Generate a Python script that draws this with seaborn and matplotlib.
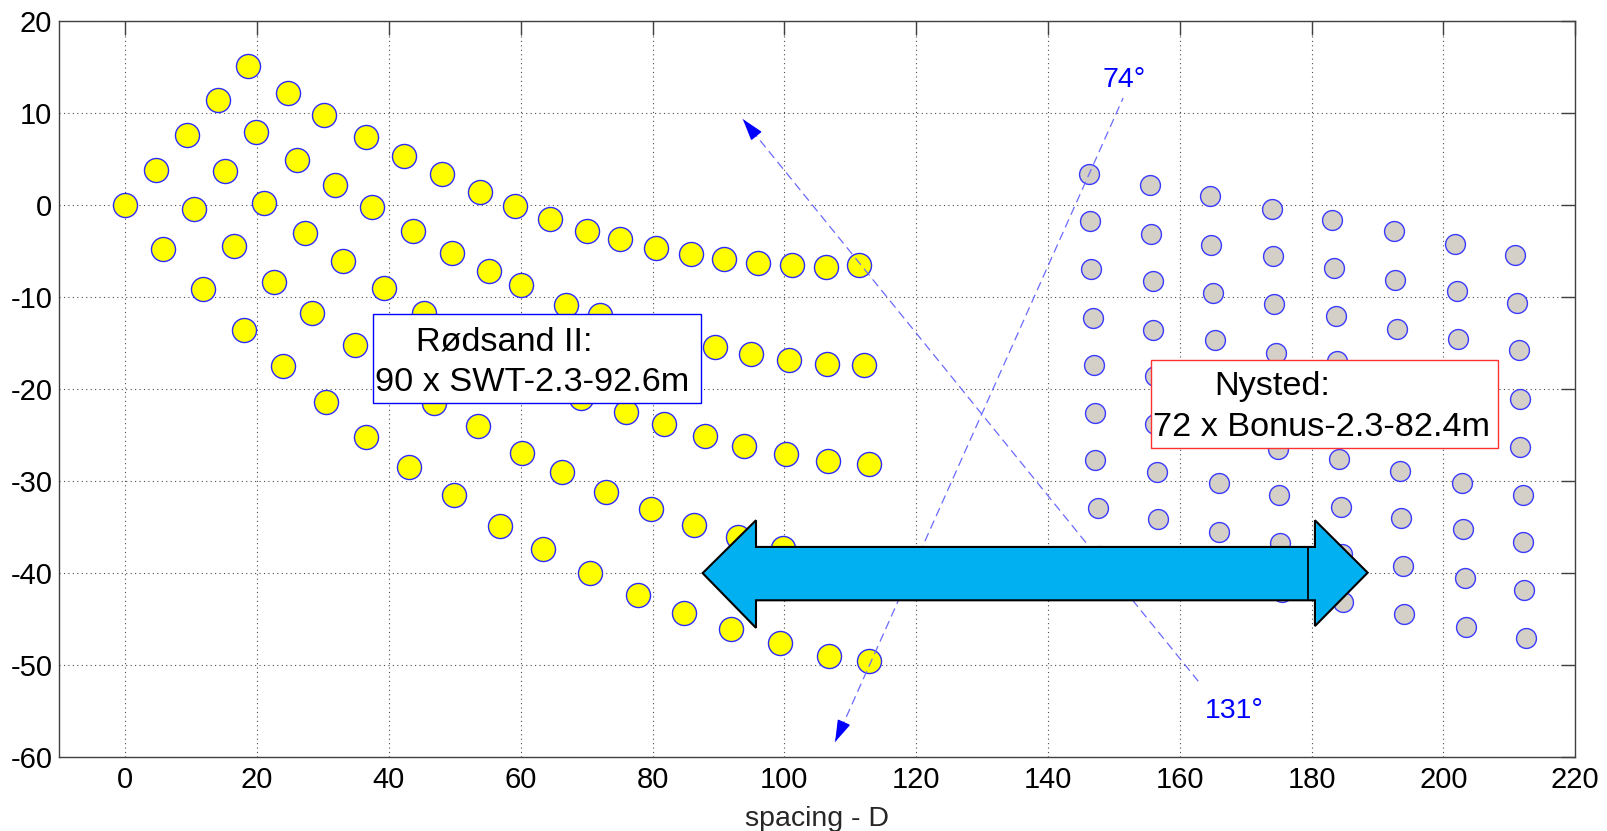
import numpy as np
import pandas as pd
import matplotlib
matplotlib.use("Agg")
import matplotlib.pyplot as plt
import matplotlib.patches as mpatches
import seaborn as sns

# Rødsand II: five arcs of 18 turbines (positions in rotor diameters)
rodsand_row1_x = [18.7, 24.7, 30.2, 36.6, 42.3, 48.0, 53.8, 59.2, 64.5, 70.1, 75.0, 80.5, 85.8, 90.9, 96.0, 101.2, 106.3, 111.4]
rodsand_row1_y = [15.1, 12.1, 9.8, 7.4, 5.3, 3.3, 1.4, -0.1, -1.5, -2.9, -3.7, -4.7, -5.4, -5.9, -6.3, -6.6, -6.8, -6.6]
rodsand_row2_x = [14.1, 19.9, 26.0, 31.9, 37.5, 43.6, 49.6, 55.2, 60.1, 66.8, 72.1, 77.9, 83.7, 89.5, 95.0, 100.7, 106.4, 112.1]
rodsand_row2_y = [11.4, 7.9, 4.9, 2.1, -0.3, -2.9, -5.2, -7.2, -8.7, -10.9, -12.0, -13.3, -14.5, -15.5, -16.2, -16.9, -17.3, -17.4]
rodsand_row3_x = [9.3, 15.1, 21.0, 27.3, 33.0, 39.3, 45.3, 51.3, 57.3, 63.3, 69.2, 76.0, 81.8, 87.9, 93.9, 100.2, 106.6, 112.8]
rodsand_row3_y = [7.6, 3.7, 0.2, -3.1, -6.1, -9.0, -11.8, -14.3, -16.7, -19.0, -21.0, -22.5, -23.8, -25.1, -26.2, -27.1, -27.9, -28.2]
rodsand_row4_x = [4.7, 10.5, 16.5, 22.6, 28.4, 34.9, 40.9, 46.9, 53.5, 60.2, 66.2, 73.0, 79.7, 86.3, 92.9, 99.8, 106.4, 112.9]
rodsand_row4_y = [3.8, -0.5, -4.5, -8.4, -11.8, -15.3, -18.5, -21.5, -24.0, -27.0, -29.0, -31.2, -33.1, -34.8, -36.1, -37.3, -38.6, -39.0]
rodsand_row5_x = [0.0, 5.8, 11.8, 18.0, 23.9, 30.5, 36.6, 43.1, 49.9, 56.9, 63.4, 70.5, 77.8, 84.8, 91.9, 99.4, 106.8, 112.9]
rodsand_row5_y = [0.0, -4.8, -9.2, -13.6, -17.5, -21.4, -25.2, -28.5, -31.6, -34.9, -37.4, -40.0, -42.4, -44.4, -46.1, -47.6, -49.0, -49.6]

# Nysted: eight columns of 9 turbines
nysted_col_x = [
    [146.2, 146.3, 146.5, 146.8, 147.0, 147.1, 147.2, 147.6, 147.8],
    [155.5, 155.6, 155.9, 156.0, 156.2, 156.3, 156.5, 156.7, 156.9],
    [164.6, 164.8, 165.1, 165.3, 165.5, 165.7, 165.9, 166.0, 166.2],
    [174.0, 174.2, 174.3, 174.6, 174.8, 174.9, 175.0, 175.2, 175.5],
    [183.1, 183.4, 183.7, 183.8, 184.0, 184.2, 184.4, 184.6, 184.8],
    [192.5, 192.7, 192.9, 193.0, 193.2, 193.4, 193.6, 193.8, 194.0],
    [201.8, 202.0, 202.2, 202.4, 202.6, 202.8, 203.0, 203.2, 203.4],
    [210.9, 211.1, 211.4, 211.6, 211.6, 212.0, 212.1, 212.2, 212.5],
]
nysted_col_y = [
    [3.3, -1.8, -7.0, -12.3, -17.4, -22.6, -27.8, -33.0, -38.2],
    [2.1, -3.2, -8.3, -13.6, -18.6, -23.8, -29.1, -34.2, -39.4],
    [0.9, -4.4, -9.6, -14.7, -19.9, -25.1, -30.3, -35.6, -40.8],
    [-0.5, -5.6, -10.8, -16.1, -21.3, -26.6, -31.6, -36.8, -42.1],
    [-1.7, -6.9, -12.1, -17.0, -22.3, -27.6, -32.9, -38.0, -43.2],
    [-2.9, -8.2, -13.5, -18.6, -23.8, -28.9, -34.1, -39.3, -44.5],
    [-4.3, -9.4, -14.6, -19.8, -25.0, -30.2, -35.3, -40.6, -45.9],
    [-5.5, -10.7, -15.8, -21.1, -26.3, -31.5, -36.7, -41.9, -47.1],
]

x_ticks = list(range(0, 221, 20))
y_ticks = list(range(-60, 21, 10))

# wind directions (dashed lines, arrow tip first)
dir74_tip, dir74_end = (107.7, -58.4), (151.4, 11.6)
dir131_tip, dir131_end = (93.7, 9.3), (162.8, -51.8)

rodsand = pd.DataFrame({
    "x": rodsand_row1_x + rodsand_row2_x + rodsand_row3_x + rodsand_row4_x + rodsand_row5_x,
    "y": rodsand_row1_y + rodsand_row2_y + rodsand_row3_y + rodsand_row4_y + rodsand_row5_y,
})
nysted = pd.DataFrame({
    "x": [v for col in nysted_col_x for v in col],
    "y": [v for col in nysted_col_y for v in col],
})

sns.set_style("white")
plt.rcParams["font.family"] = ["Liberation Sans", "DejaVu Sans"]
plt.rcParams["axes.unicode_minus"] = False

W, H = 1608, 831
fig = plt.figure(figsize=(W / 100, H / 100), dpi=100)
ax_l, ax_r, ax_t, ax_b = 59.3, 1575.3, 20.7, 756.7
ax = fig.add_axes([ax_l / W, 1 - ax_b / H, (ax_r - ax_l) / W, (ax_b - ax_t) / H])

sns.scatterplot(data=rodsand, x="x", y="y", s=300, color="#ffff00",
                edgecolor="#2b2bff", linewidth=1.0, ax=ax, zorder=3, legend=False)
sns.scatterplot(data=nysted, x="x", y="y", s=205, color="#d4d0c8",
                edgecolor="#3a3aff", linewidth=1.0, ax=ax, zorder=3, legend=False)

ax.set_xlim(-10, 220)
ax.set_ylim(-60, 20)
ax.set_xticks(x_ticks)
ax.set_yticks(y_ticks)
ax.grid(True, linestyle=(0, (1, 3)), color="0.3", linewidth=0.8)
ax.set_axisbelow(True)
ax.tick_params(axis="both", direction="in", length=10, width=1.0, color="#404040",
               top=True, right=True, labelsize=21, labelcolor="black")
ax.tick_params(axis="x", pad=7)
ax.tick_params(axis="y", pad=5)
for sp in ax.spines.values():
    sp.set_color("#404040")
    sp.set_linewidth(1.0)
ax.set_xlabel("spacing - D", fontsize=20.5, labelpad=8)
ax.set_ylabel("")

# dashed direction lines with solid heads
fig.canvas.draw()
def direction(tip, end, label, lab_xy):
    ax.plot([tip[0], end[0]], [tip[1], end[1]], linestyle=(0, (7, 4)),
            color="#6a6aff", linewidth=0.9, zorder=4)
    p_tip = ax.transData.transform(tip)
    p_end = ax.transData.transform(end)
    u = (p_end - p_tip) / np.hypot(*(p_end - p_tip))
    back = ax.transData.inverted().transform(p_tip + u * 17)
    ax.annotate("", xy=tip, xytext=back,
                arrowprops=dict(arrowstyle="-|>,head_length=0.9,head_width=0.28",
                                mutation_scale=15, color="#0000ff", lw=1.0,
                                shrinkA=0, shrinkB=0), zorder=4)
    ax.text(lab_xy[0], lab_xy[1], label, color="#0000ff", fontsize=20.5,
            ha="left", va="baseline", zorder=4)

direction(dir74_tip, dir74_end, "74°", (148.2, 12.8))
direction(dir131_tip, dir131_end, "131°", (163.8, -55.8))

# double block arrow
arrow_pts = [(87.6, -40.05), (95.7, -34.3), (95.7, -37.2), (180.5, -37.2), (180.5, -34.3),
             (188.5, -40.0), (180.5, -45.8), (180.5, -43.0), (95.7, -43.0), (95.7, -46.0)]
ax.add_patch(mpatches.Polygon(arrow_pts, closed=True, facecolor="#00b0f0",
                              edgecolor="black", linewidth=1.5, zorder=6))
ax.plot([179.4, 179.4], [-37.2, -43.0], color="black", linewidth=1.3, zorder=6)

# labelled boxes
def label_box(x0, x1, y0, y1, edge, lines):
    ax.add_patch(mpatches.Rectangle((x0, y0), x1 - x0, y1 - y0, facecolor="white",
                                    edgecolor=edge, linewidth=1.0, zorder=7))
    for (tx, ty, s) in lines:
        ax.text(tx, ty, s, fontsize=24.7, ha="left", va="baseline", color="black", zorder=8)

label_box(37.6, 87.4, -21.5, -11.9, "#0000ff",
          [(44.1, -15.9, "Rødsand II:"), (37.9, -20.2, "90 x SWT-2.3-92.6m")])
label_box(155.6, 208.2, -26.45, -16.85, "#ff3030",
          [(165.2, -20.7, "Nysted:"), (156.0, -25.1, "72 x Bonus-2.3-82.4m")])

fig.savefig("out.png", dpi=100, facecolor="white")
